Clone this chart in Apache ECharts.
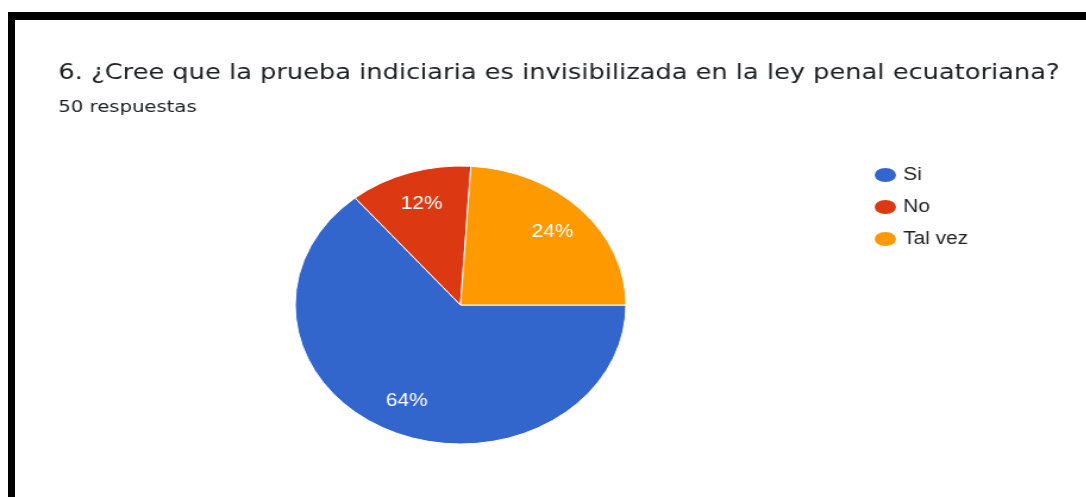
<!DOCTYPE html>
<html>
<head>
<meta charset="utf-8">
<script src="https://cdn.jsdelivr.net/npm/echarts@6/dist/echarts.min.js"></script>
<style>
  html, body { margin: 0; padding: 0; background: #fff; }
  .page { position: relative; width: 1086px; height: 497px; overflow: hidden; background: #fff; }
  /* the source screenshot is stretched horizontally, so the chart is drawn narrower and scaled */
  .chart-box {
    position: absolute; left: 0; top: 0;
    width: 912.6px; height: 497px;
    transform: scaleX(1.19); transform-origin: 0 0;
  }
  .frame-top { position: absolute; left: 8px; top: 12px; width: 1078px; height: 8px; background: #000; }
  .frame-left { position: absolute; left: 8px; top: 12px; width: 7px; height: 485px; background: #000; }
</style>
</head>
<body>
<div class="page">
  <div id="chart" class="chart-box"></div>
  <div class="frame-top"></div>
  <div class="frame-left"></div>
</div>
<script>
  // --- 数据 ---
  const categories = ['Si', 'No', 'Tal vez']
  const counts = [32, 6, 12]
  const colors = ['#3366cc', '#dc3912', '#ff9900']
  const questionTitle = '6. ¿Cree que la prueba indiciaria es invisibilizada en la ley penal ecuatoriana?'
  const responsesText = '50 respuestas'

  const total = counts.reduce((a, b) => a + b, 0)
  const pieData = categories.map((name, i) => ({ name, value: counts[i], itemStyle: { color: colors[i] } }))

  const myChart = echarts.init(document.getElementById('chart'))

  const option = {
    backgroundColor: '#fff',
    animation: false,
    title: {
      text: questionTitle,
      subtext: responsesText,
      left: 49,
      top: 62,
      itemGap: 15,
      padding: 0,
      textStyle: { fontFamily: 'DejaVu Sans', fontSize: 21.6, fontWeight: 'normal', color: '#202124' },
      subtextStyle: { fontFamily: 'DejaVu Sans', fontSize: 16.5, color: '#202124' }
    },
    legend: {
      orient: 'vertical',
      left: 728,
      top: 161,
      itemWidth: 20,
      itemHeight: 16,
      itemGap: 14,
      icon: 'path://M0,50a62.5,50 0 1,0 125,0a62.5,50 0 1,0 -125,0',
      symbolKeepAspect: false,
      selectedMode: false,
      data: categories,
      textStyle: { fontFamily: 'Liberation Sans', fontSize: 17.5, color: '#222' }
    },
    series: [
      {
        name: 'respuestas',
        type: 'pie',
        center: [387, 305],
        radius: 139,
        startAngle: 0,
        clockwise: true,
        silent: true,
        label: { show: false },
        labelLine: { show: false },
        itemStyle: { borderColor: '#fff', borderWidth: 1 },
        data: pieData
      },
      {
        // 透明的环，仅用于把百分比标签放到 3/4 半径处
        name: 'etiquetas',
        type: 'pie',
        center: [387, 305],
        radius: [67, 139],
        startAngle: 0,
        clockwise: true,
        silent: true,
        itemStyle: { color: 'rgba(0,0,0,0)' },
        label: {
          show: true,
          position: 'inside',
          color: '#fff',
          fontFamily: 'Liberation Sans',
          fontSize: 17.5,
          formatter: p => Math.round(p.value / total * 100) + '%'
        },
        labelLine: { show: false },
        data: categories.map((name, i) => ({ name, value: counts[i] }))
      }
    ]
  }

  myChart.setOption(option)
</script>
</body>
</html>
